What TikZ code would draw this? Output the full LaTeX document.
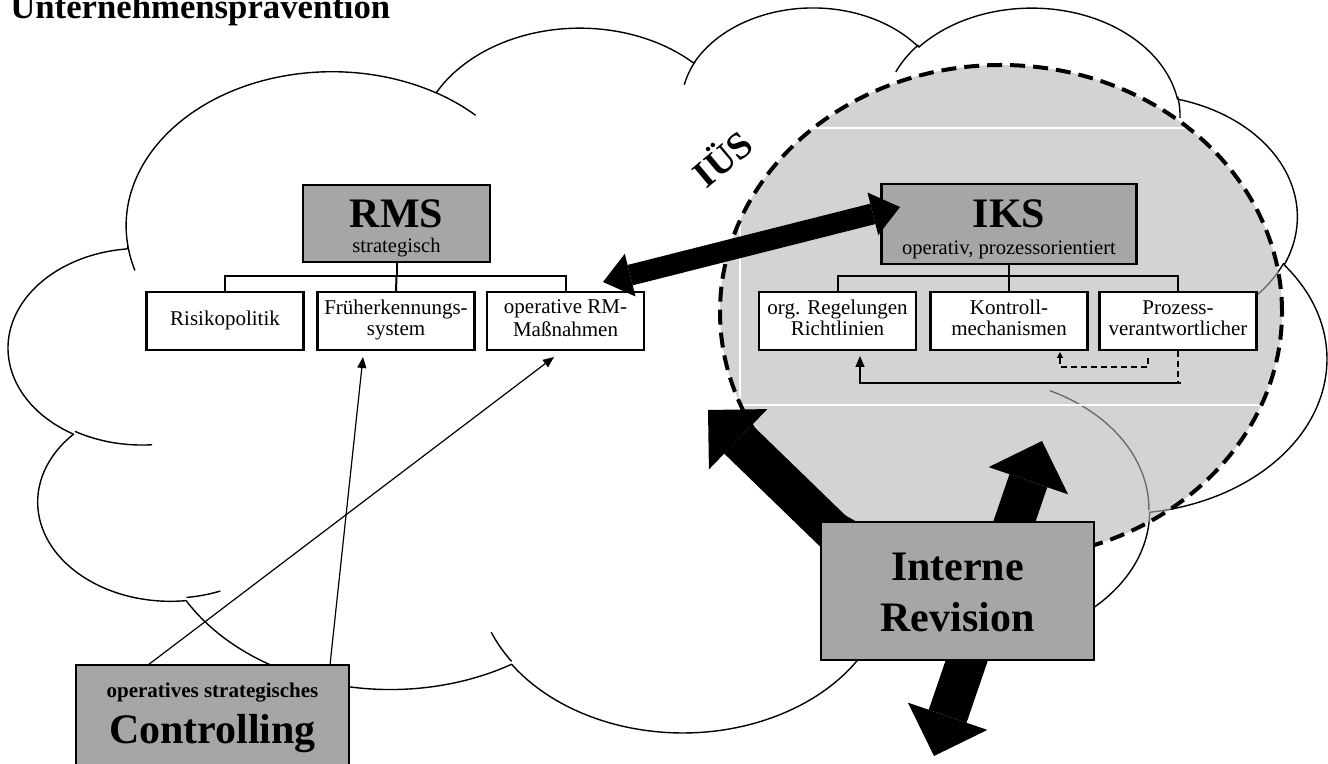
\documentclass[tikz,border=0pt]{standalone}
\usepackage{fontspec}
\setmainfont{Liberation Serif}
\usetikzlibrary{arrows.meta}
\definecolor{boxgray}{HTML}{A6A6A6}
\definecolor{iuesfill}{HTML}{B6B6B6}

\tikzset{
  % one lobe of the cloud outline: x radius, y radius, start angle, sweep
  cloudarc/.style n args={4}{insert path={arc[x radius={#1*15.2465pt}, y radius={#2*8.3877pt},
      start angle={0-atan2(#1*sin(#3),#2*cos(#3))},
      delta angle={0-mod(atan2(#1*sin(#3+#4),#2*cos(#3+#4))-atan2(#1*sin(#3),#2*cos(#3))+720,360)}]}},
  cloudline/.style={line width=0.7pt, line join=round},
  headbox/.style={draw=black, line width=1.4pt, fill=boxgray, inner sep=0pt},
  subbox/.style={draw=black, line width=1.1pt, fill=white, inner sep=0pt,
      minimum width=78.5pt, minimum height=29pt, align=center,
      font=\fontsize{10.5}{10.5}\selectfont},
  treeline/.style={line width=1pt},
  thinarrow/.style={line width=0.6pt, -{Triangle[length=5.5pt,width=4.5pt]}},
  fbdash/.style={line width=0.6pt, dash pattern=on 3pt off 2pt},
  blockarrowA/.style={line width=10.5pt, {Triangle[length=14pt,width=22pt,line width=0pt]}-{Triangle[length=14pt,width=22pt,line width=0pt]}},
  blockarrowB/.style={line width=20pt, -{Triangle[length=21pt,width=42pt,line width=0pt]}},
  blockarrowC/.style={line width=20pt, {Triangle[length=21pt,width=42pt,line width=0pt]}-{Triangle[length=21pt,width=42pt,line width=0pt]}},
  boldtext/.style={font=\fontsize{21}{24}\selectfont\bfseries, inner sep=0pt},
  subtext/.style={font=\fontsize{10.3}{12}\selectfont, inner sep=0pt},
}

\begin{document}
\begin{tikzpicture}[x=0.5pt,y=-0.5pt]
\useasboundingbox (0,0) rectangle (1328,764);
\clip (0,0) rectangle (1328,764);

% ---------- cloud ----------
\begin{scope}[shift={(4.55pt,-2.8pt)}, x=15.2465pt, y=8.3877pt]
  \draw[cloudline, fill=white] (3.9,-14.37)
    [cloudarc={6.753}{9.190}{-190.48749}{123.78053}]
    [cloudarc={5.333}{7.267}{-144.10238}{89.94523}]
    [cloudarc={4.365}{5.945}{-145.80792}{99.72302}]
    [cloudarc={4.857}{6.595}{-130.98607}{117.24173}]
    [cloudarc={5.333}{7.273}{-78.70888}{109.02692}]
    [cloudarc={6.775}{9.220}{-46.26725}{130.26900}]
    [cloudarc={5.785}{7.867}{0.62502}{114.03333}]
    [cloudarc={6.752}{9.215}{22.45160}{115.17255}]
    [cloudarc={7.720}{10.543}{66.24263}{75.71102}]
    [cloudarc={4.360}{5.918}{-274.94208}{146.73557}]
    [cloudarc={4.345}{5.945}{-246.82850}{152.51885}]
    -- cycle;
  \draw[cloudline]
    (4.693,-26.177) [cloudarc={4.345}{5.945}{86.74200}{26.42950}]
    (6.928,-34.899) [cloudarc={4.360}{5.918}{73.61047}{11.44747}]
    (16.478,-39.090) [cloudarc={6.752}{9.215}{137.62415}{14.08110}]
    (28.827,-34.751) [cloudarc={6.752}{9.215}{6.45327}{15.99835}]
    (34.129,-22.954) [cloudarc={5.785}{7.867}{-70.29235}{70.91737}]
    (41.798,-15.354) [cloudarc={5.333}{7.273}{30.31803}{27.75150}]
    (38.324,-5.426) [cloudarc={4.857}{6.595}{-13.74433}{14.85890}]
    (29.078,-3.952) [cloudarc={4.857}{6.595}{-149.18145}{18.19537}]
    (22.141,-4.720) [cloudarc={4.365}{5.945}{-163.49427}{17.68635}]
    (14.000,-5.192) [cloudarc={6.753}{9.190}{-66.70695}{12.31935}]
    (4.127,-15.789) [cloudarc={6.753}{9.190}{157.65435}{11.85817}];
\end{scope}

% ---------- IÜS area ----------
\fill[iuesfill, fill opacity=0.6] (1001,312) ellipse [x radius=140.5pt, y radius=123.5pt];
\begin{scope}
  \clip (1001,312) ellipse [x radius=140.5pt, y radius=123.5pt];
  \draw[white, line width=0.8pt] (740,128) rectangle (1340,405);
\end{scope}
\draw[line width=2pt, dash pattern=on 7.5pt off 4pt] (1001,312) ellipse [x radius=140.5pt, y radius=123.5pt];
\node[rotate=40, font=\fontsize{19}{22}\selectfont\bfseries, inner sep=0pt] (ius) at (721,157) {IÜS};

% ---------- RMS ----------
\node[headbox, minimum width=93.5pt, minimum height=38.5pt] (rms) at (396.5,223.5) {};
\node[boldtext, anchor=base] (rmsT) at (396.5,228) {RMS};
\node[subtext, anchor=base] (rmsS) at (396.5,253) {strategisch};

\node[subbox] (risk) at (225,321) {\strut Risikopolitik};
\node[subbox] (frueh) at (396,321) {\strut Früherkennungs-\\\strut system};
\node[subbox] (opm) at (565.5,321) {\strut operative RM-\\\strut Maßnahmen};

\draw[treeline] (rms.south) -- ++(0,13) coordinate (rmsJ);
\draw[treeline] (rmsJ) -| (risk.north);
\draw[treeline] (rmsJ) -| (opm.north);
\draw[treeline] (rmsJ) -- (frueh.north);

% ---------- IKS ----------
\node[headbox, minimum width=127.5pt, minimum height=40pt] (iks) at (1009,224) {};
\node[boldtext, anchor=base] (iksT) at (1009,228) {IKS};
\node[subtext, anchor=base] (iksS) at (1009,255) {operativ, prozessorientiert};

\node[subbox] (org) at (837.5,321) {\strut org. Regelungen\\\strut Richtlinien};
\node[subbox] (kont) at (1009,321) {\strut Kontroll-\\\strut mechanismen};
\node[subbox] (proz) at (1178,321) {\strut Prozess-\\\strut verantwortlicher};

\draw[treeline] (iks.south) -- ++(0,11) coordinate (iksJ);
\draw[treeline] (iksJ) -| (org.north);
\draw[treeline] (iksJ) -| (proz.north);
\draw[treeline] (iksJ) -- (kont.north);

% feedback from the process owner
\coordinate (fbA) at (1148,358);
\coordinate (fbB) at (1060,352);
\coordinate (fbC) at (1181,383);
\coordinate (fbD) at (860,356);
\draw[fbdash, -{Triangle[length=3pt,width=3pt]}] (fbA) -- ++(0,9) -| (fbB);
\draw[fbdash] (proz.south) -- (proz.south |- fbC);
\draw[thinarrow] (fbC) -| (fbD);

% ---------- Controlling links ----------
\coordinate (ctlA) at (148,665);
\coordinate (ctlB) at (330,665);
\coordinate (opmTip) at (554,357);
\coordinate (fruehTip) at (363,357);
\draw[thinarrow] (ctlA) -- (opmTip);
\draw[thinarrow] (ctlB) -- (fruehTip);

% ---------- block arrows ----------
\coordinate (aL) at (603,282);
\coordinate (aR) at (900,207);
\draw[blockarrowA] (aL) -- (aR);

\coordinate (b1s) at (873,570);
\coordinate (b1t) at (708,410);
\draw[blockarrowB] (b1s) -- (b1t);

\coordinate (b2s) at (934,756);
\coordinate (b2t) at (1042,441);
\draw[blockarrowC] (b2s) -- (b2t);

% ---------- Interne Revision ----------
\node[headbox, line width=1.25pt, minimum width=136.5pt, minimum height=69pt] (ir) at (957.5,591) {};
\node[boldtext, anchor=base] (irT1) at (957.5,580) {Interne};
\node[boldtext, anchor=base] (irT2) at (957.5,631) {Revision};

% ---------- Controlling ----------
\node[headbox, line width=1.25pt, minimum width=136.5pt, minimum height=67.5pt] (ctl) at (212.5,732.5) {};
\node[font=\fontsize{10.5}{12}\selectfont\bfseries, inner sep=0pt, anchor=base] (ctlT1) at (212.5,697) {operatives strategisches};
\node[boldtext, anchor=base] (ctlT2) at (212.5,743) {Controlling};

% ---------- title ----------
\node[font=\fontsize{17.35}{20}\selectfont\bfseries, inner sep=0pt, anchor=base west] (title) at (10,18.3) {Unternehmensprävention};
\end{tikzpicture}
\end{document}
